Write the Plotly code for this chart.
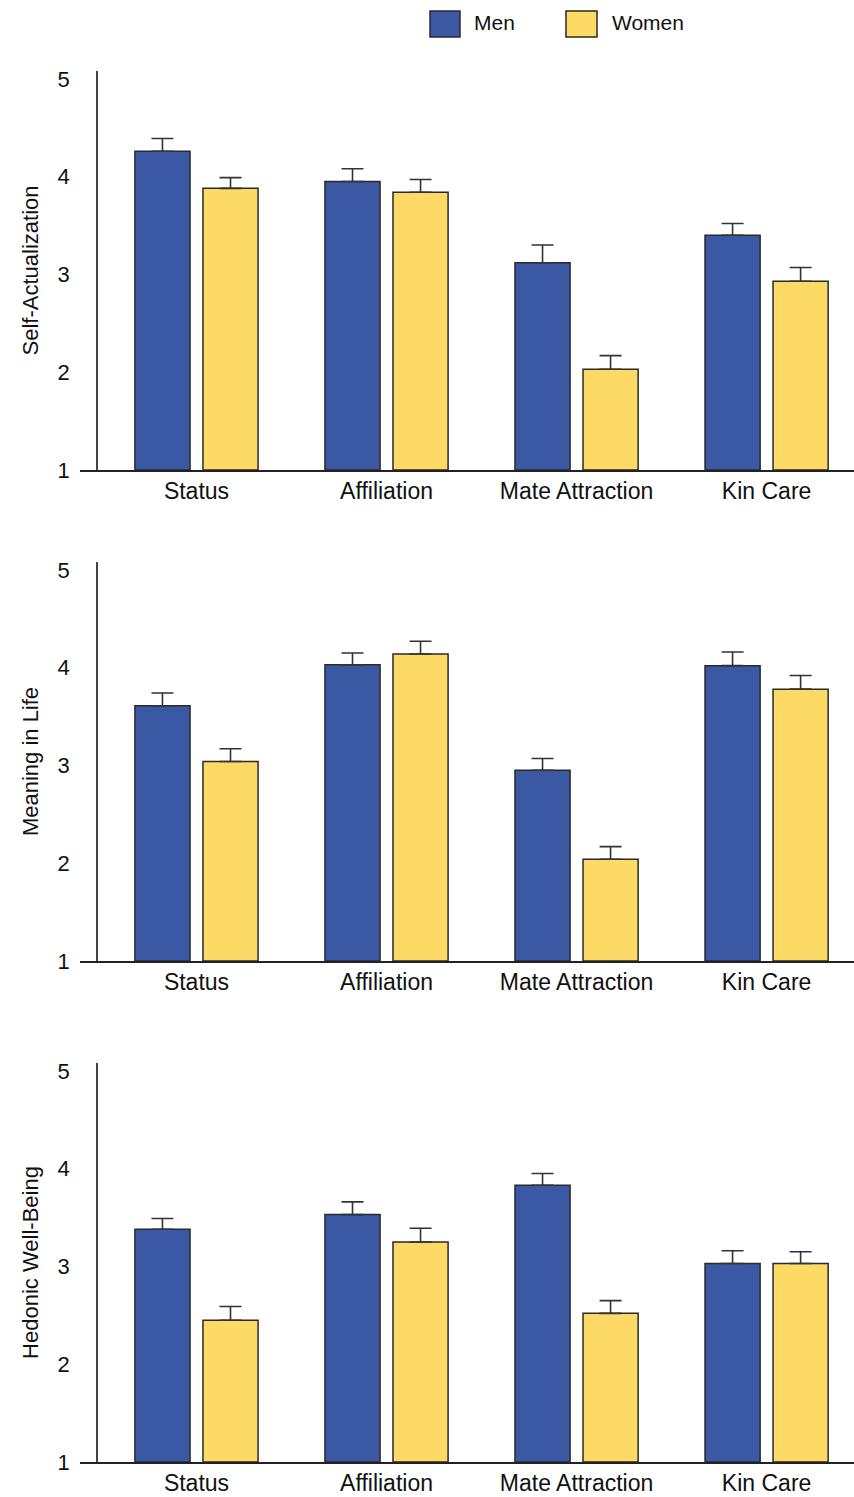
import plotly.graph_objects as go

categories = ["Status", "Affiliation", "Mate Attraction", "Kin Care"]
panel_titles = ["Self-Actualization", "Meaning in Life", "Hedonic Well-Being"]

men_self = [4.26, 3.95, 3.12, 3.40]
men_self_err = [0.13, 0.13, 0.18, 0.12]
women_self = [3.88, 3.84, 2.03, 2.93]
women_self_err = [0.11, 0.13, 0.14, 0.14]

men_meaning = [3.61, 4.03, 2.95, 4.02]
men_meaning_err = [0.13, 0.12, 0.12, 0.14]
women_meaning = [3.04, 4.14, 2.04, 3.78]
women_meaning_err = [0.13, 0.13, 0.13, 0.14]

men_hedonic = [3.38, 3.53, 3.83, 3.03]
men_hedonic_err = [0.11, 0.13, 0.12, 0.13]
women_hedonic = [2.45, 3.25, 2.52, 3.03]
women_hedonic_err = [0.14, 0.14, 0.13, 0.12]

y_ticks = [1, 2, 3, 4, 5]

W, H = 854, 1497
MEN_COLOR = "#3B58A5"
WOMEN_COLOR = "#FDD966"
FONT = "Liberation Sans Narrow, Arial Narrow, sans-serif"
TXT = "#111111"

panels = [
    (men_self, men_self_err, women_self, women_self_err),
    (men_meaning, men_meaning_err, women_meaning, women_meaning_err),
    (men_hedonic, men_hedonic_err, women_hedonic, women_hedonic_err),
]
# pixel rows: (y of value 1, top of axis)
rows_px = [(470, 71), (961, 562), (1462, 1063)]

fig = go.Figure()
layout = {}
for i, (m, me, w, we) in enumerate(panels):
    n = "" if i == 0 else str(i + 1)
    xa, ya = "x" + n, "y" + n
    for vals, errs, color, name in ((m, me, MEN_COLOR, "Men"), (w, we, WOMEN_COLOR, "Women")):
        fig.add_trace(go.Bar(
            x=categories, y=[v - 1 for v in vals], base=1, name=name,
            marker=dict(color=color, line=dict(color="#2a2a2a", width=1.5)),
            error_y=dict(type="data", symmetric=False, array=errs,
                         arrayminus=[0] * len(errs), color="#333333",
                         thickness=1.6, width=11),
            xaxis=xa, yaxis=ya, showlegend=False,
            offsetgroup=name,
        ))
    ybot, ytop = rows_px[i]
    layout["xaxis" + n] = dict(
        domain=[80 / W, 1], anchor=ya, range=[-0.613, 3.46],
        showline=True, linecolor="#222222", linewidth=1.5,
        ticks="", ticklabelstandoff=0, showgrid=False, zeroline=False,
        tickfont=dict(family=FONT, size=23, color=TXT), automargin=False,
        fixedrange=True,
    )
    layout["yaxis" + n] = dict(
        domain=[1 - ybot / H, 1 - ytop / H], anchor="free", position=97 / W,
        range=[1, 5.08], tickvals=y_ticks, ticks="", ticklabelstandoff=22,
        showline=True, linecolor="#444444", linewidth=1.5,
        showgrid=False, zeroline=False, automargin=False,
        tickfont=dict(family=FONT, size=22, color=TXT),
        title=dict(text=panel_titles[i], standoff=12,
                   font=dict(family=FONT, size=22, color=TXT)),
        fixedrange=True,
    )

# Legend drawn as key boxes with labels
shapes = []
annotations = []
for x0, x1, color, label, tx in ((430, 460, MEN_COLOR, "Men", 472), (566, 597, WOMEN_COLOR, "Women", 610)):
    shapes.append(dict(type="rect", xref="paper", yref="paper",
                       x0=x0 / W, x1=x1 / W, y0=1 - 37 / H, y1=1 - 11 / H,
                       fillcolor=color, line=dict(color="#2a2a2a", width=1.5)))
    annotations.append(dict(xref="paper", yref="paper", x=tx / W, y=1 - 23 / H,
                            text=label, showarrow=False, xanchor="left", yanchor="middle",
                            font=dict(family=FONT, size=21, color=TXT)))

fig.update_layout(
    width=W, height=H,
    margin=dict(l=0, r=0, t=0, b=0),
    paper_bgcolor="white", plot_bgcolor="white",
    barmode="group", bargap=0.284, bargroupgap=0.19,
    shapes=shapes, annotations=annotations,
    **layout,
)

fig.write_html("out.html", config={"displayModeBar": False},
               post_script="document.body.style.margin='0';document.body.style.overflow='hidden';")
